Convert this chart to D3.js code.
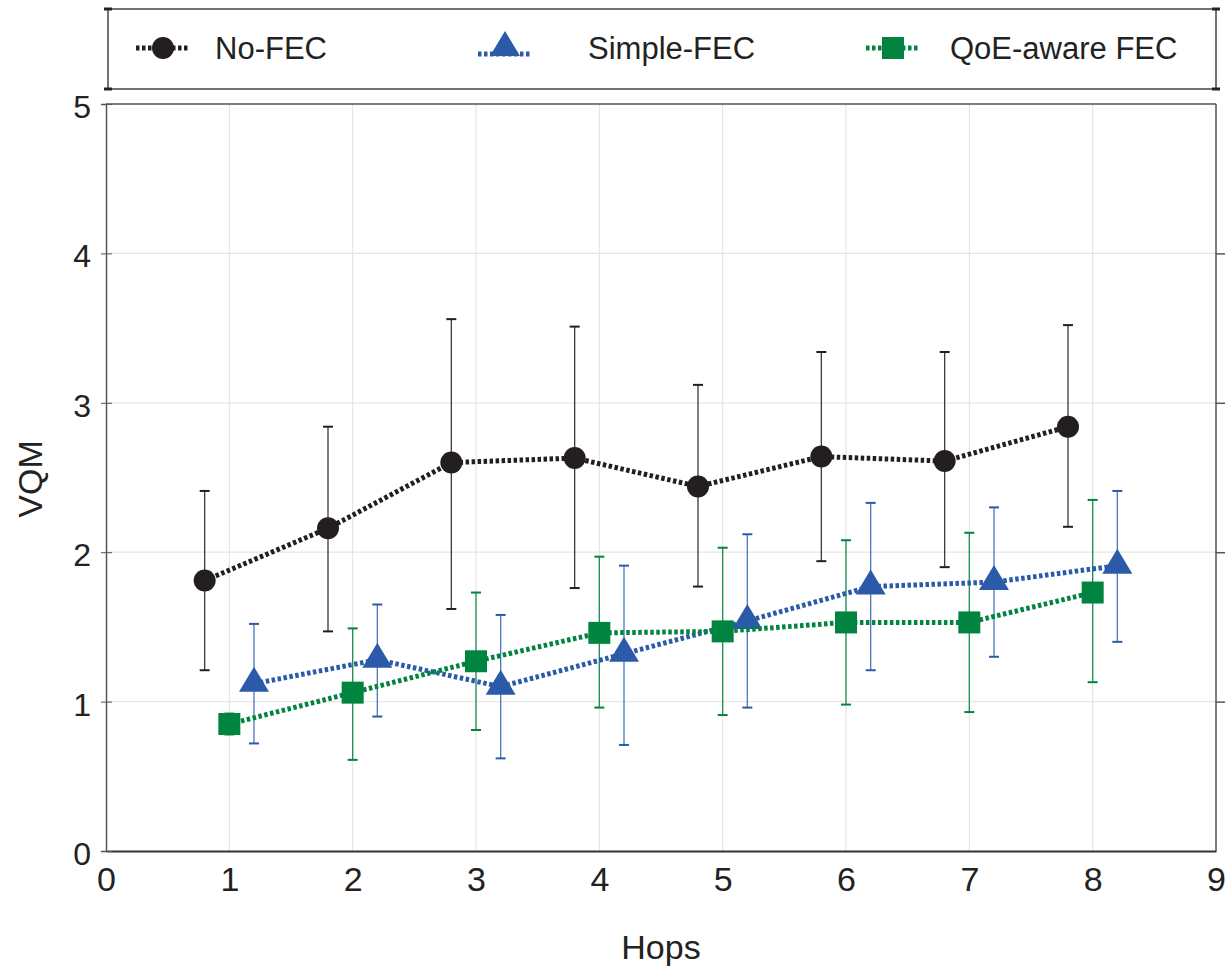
<!DOCTYPE html>
<html>
<head>
<meta charset="utf-8">
<script src="https://cdn.jsdelivr.net/npm/d3@7"></script>
<style>
body { margin: 0; background: #fff; }
svg { display: block; font-family: "Liberation Sans", Arial, sans-serif; }
</style>
</head>
<body>
<svg id="chart" width="1225" height="968"></svg>
<script>
// hops (QoE-aware sits on the integer, the other two are shifted for readability)
var hops = [1, 2, 3, 4, 5, 6, 7, 8];
var xTicks = [0, 1, 2, 3, 4, 5, 6, 7, 8, 9];
var yTicks = [0, 1, 2, 3, 4, 5];

var noFecMean = [1.81, 2.16, 2.60, 2.63, 2.44, 2.64, 2.61, 2.84];
var noFecLow  = [1.21, 1.47, 1.62, 1.76, 1.77, 1.94, 1.90, 2.17];
var noFecHigh = [2.41, 2.84, 3.56, 3.51, 3.12, 3.34, 3.34, 3.52];

var simpleMean = [1.12, 1.28, 1.10, 1.32, 1.54, 1.77, 1.80, 1.91];
var simpleLow  = [0.72, 0.90, 0.62, 0.71, 0.96, 1.21, 1.30, 1.40];
var simpleHigh = [1.52, 1.65, 1.58, 1.91, 2.12, 2.33, 2.30, 2.41];

var qoeMean = [0.85, 1.06, 1.27, 1.46, 1.47, 1.53, 1.53, 1.73];
var qoeLow  = [0.78, 0.61, 0.81, 0.96, 0.91, 0.98, 0.93, 1.13];
var qoeHigh = [0.92, 1.49, 1.73, 1.97, 2.03, 2.08, 2.13, 2.35];

var series = [
	{ name: "No-FEC", shift: -0.2, mean: noFecMean, low: noFecLow, high: noFecHigh,
	  color: "#231f20", barColor: "#3a3a3a", shape: "circle" },
	{ name: "Simple-FEC", shift: 0.2, mean: simpleMean, low: simpleLow, high: simpleHigh,
	  color: "#2b5ba8", barColor: "#4a78c0", shape: "triangle" },
	{ name: "QoE-aware FEC", shift: 0, mean: qoeMean, low: qoeLow, high: qoeHigh,
	  color: "#00843f", barColor: "#1a9050", shape: "square" }
];

var svg = d3.select("#chart");
// note: "top" is taken by window.top, so use prefixed names
var pLeft = 106, pRight = 1216, pTop = 104, pBottom = 851;

var x = d3.scaleLinear().domain([0, 9]).range([pLeft, pRight]);
var y = d3.scaleLinear().domain([0, 5]).range([pBottom, pTop]);

// grid
var grid = svg.append("g");
grid.selectAll("line.vx").data(xTicks.slice(1, -1)).enter().append("line")
	.attr("x1", function(d) { return x(d); }).attr("x2", function(d) { return x(d); })
	.attr("y1", pTop).attr("y2", pBottom)
	.attr("stroke", "#e6e6e6").attr("stroke-width", 1.2);
grid.selectAll("line.hy").data(yTicks.slice(1, -1)).enter().append("line")
	.attr("y1", function(d) { return y(d); }).attr("y2", function(d) { return y(d); })
	.attr("x1", pLeft).attr("x2", pRight)
	.attr("stroke", "#e6e6e6").attr("stroke-width", 1.2);

// frame
svg.append("line").attr("x1", pLeft).attr("x2", pRight).attr("y1", pTop).attr("y2", pTop)
	.attr("stroke", "#555").attr("stroke-width", 1.5);
svg.append("line").attr("x1", pRight).attr("x2", pRight).attr("y1", pTop).attr("y2", pBottom)
	.attr("stroke", "#555").attr("stroke-width", 1.5);

// axes
var xAxis = svg.append("g").attr("transform", "translate(0," + pBottom + ")")
	.call(d3.axisBottom(x).tickValues(xTicks).tickSize(0).tickPadding(16).tickFormat(d3.format("d")));
xAxis.select(".domain").attr("stroke", "#333").attr("stroke-width", 2);
xAxis.selectAll("text").attr("font-size", 34).attr("fill", "#222")
	.attr("font-family", "Liberation Sans, Arial, sans-serif");

var yAxis = svg.append("g").attr("transform", "translate(" + pLeft + ",0)")
	.call(d3.axisLeft(y).tickValues(yTicks).tickSize(5).tickPadding(10).tickFormat(d3.format("d")));
yAxis.select(".domain").attr("stroke", "#555").attr("stroke-width", 1.5);
yAxis.selectAll(".tick line").attr("stroke", "#555").attr("x2", 6).attr("x1", -5);
yAxis.selectAll("text").attr("font-size", 32).attr("fill", "#222").attr("dy", "0.42em")
	.attr("font-family", "Liberation Sans, Arial, sans-serif");

var yRight = svg.append("g").attr("transform", "translate(" + pRight + ",0)")
	.call(d3.axisRight(y).tickValues(yTicks.slice(1, -1)).tickSize(11).tickFormat(""));
yRight.select(".domain").remove();
yRight.selectAll(".tick line").attr("stroke", "#555").attr("stroke-width", 1.5);

// axis titles
svg.append("text").attr("x", 661).attr("y", 959)
	.attr("text-anchor", "middle").attr("font-size", 34).attr("fill", "#222")
	.text("Hops");
svg.append("text").attr("transform", "translate(42,479) rotate(-90)")
	.attr("text-anchor", "middle").attr("font-size", 34).attr("fill", "#222")
	.text("VQM");

var drawMarker = function(g, shape, color, cx, cy)
{
	if (shape === "circle")
	{
		g.append("circle").attr("cx", cx).attr("cy", cy).attr("r", 11).attr("fill", color);
	}
	else if (shape === "triangle")
	{
		g.append("path")
			.attr("d", "M" + cx + "," + (cy - 17) + "L" + (cx + 15) + "," + (cy + 8) + "L" + (cx - 15) + "," + (cy + 8) + "Z")
			.attr("fill", color);
	}
	else
	{
		g.append("rect").attr("x", cx - 11).attr("y", cy - 11).attr("width", 22).attr("height", 22)
			.attr("fill", color);
	}
};

var line = d3.line()
	.x(function(d) { return x(d.h); })
	.y(function(d) { return y(d.v); });

// error bars first, then lines and markers
series.forEach(function(s)
{
	var pts = hops.map(function(h, i)
	{
		return { h: h + s.shift, v: s.mean[i], lo: s.low[i], hi: s.high[i] };
	});
	s.pts = pts;
	var g = svg.append("g");
	g.selectAll("line.err").data(pts).enter().append("line")
		.attr("x1", function(d) { return x(d.h); }).attr("x2", function(d) { return x(d.h); })
		.attr("y1", function(d) { return y(d.lo); }).attr("y2", function(d) { return y(d.hi); })
		.attr("stroke", s.barColor).attr("stroke-width", 1.3);
	["lo", "hi"].forEach(function(k)
	{
		g.selectAll("line.cap" + k).data(pts).enter().append("line")
			.attr("x1", function(d) { return x(d.h) - 5; }).attr("x2", function(d) { return x(d.h) + 5; })
			.attr("y1", function(d) { return y(d[k]); }).attr("y2", function(d) { return y(d[k]); })
			.attr("stroke", s.color).attr("stroke-width", 2);
	});
});

series.forEach(function(s)
{
	var g = svg.append("g");
	g.append("path").datum(s.pts).attr("d", line)
		.attr("fill", "none").attr("stroke", s.color).attr("stroke-width", 5)
		.attr("stroke-dasharray", "3.5,2.5");
	s.pts.forEach(function(d) { drawMarker(g, s.shape, s.color, x(d.h), y(d.v)); });
});

// legend box
var lg = svg.append("g");
var lTop = 9, lBot = 89, lLeft = 108, lRight = 1216;
lg.append("line").attr("x1", lLeft).attr("x2", lRight).attr("y1", lTop).attr("y2", lTop)
	.attr("stroke", "#444").attr("stroke-width", 1.5);
lg.append("line").attr("x1", lLeft).attr("x2", lRight).attr("y1", lBot).attr("y2", lBot)
	.attr("stroke", "#444").attr("stroke-width", 1.5);
[lLeft, lRight].forEach(function(lx)
{
	lg.append("line").attr("x1", lx).attr("x2", lx).attr("y1", lTop).attr("y2", lBot)
		.attr("stroke", "#444").attr("stroke-width", 1.5);
	[lTop, lBot].forEach(function(ly)
	{
		lg.append("line").attr("x1", lx - 4).attr("x2", lx + 4).attr("y1", ly).attr("y2", ly)
			.attr("stroke", "#222").attr("stroke-width", 3);
	});
});

var legendMarkX = [163, 505, 893];
var legendTextX = [215, 588, 950];
series.forEach(function(s, i)
{
	var cx = legendMarkX[i], cy = 48;
	var ly = cy + (s.shape === "triangle" ? 6 : 0);
	lg.append("line").attr("x1", cx - 27).attr("x2", cx + 27).attr("y1", ly).attr("y2", ly)
		.attr("stroke", s.color).attr("stroke-width", 5).attr("stroke-dasharray", "3.5,2.5");
	drawMarker(lg, s.shape, s.color, cx, cy);
	lg.append("text").attr("x", legendTextX[i]).attr("y", cy + 11)
		.attr("font-size", 31).attr("fill", "#222").text(s.name);
});
</script>
</body>
</html>
